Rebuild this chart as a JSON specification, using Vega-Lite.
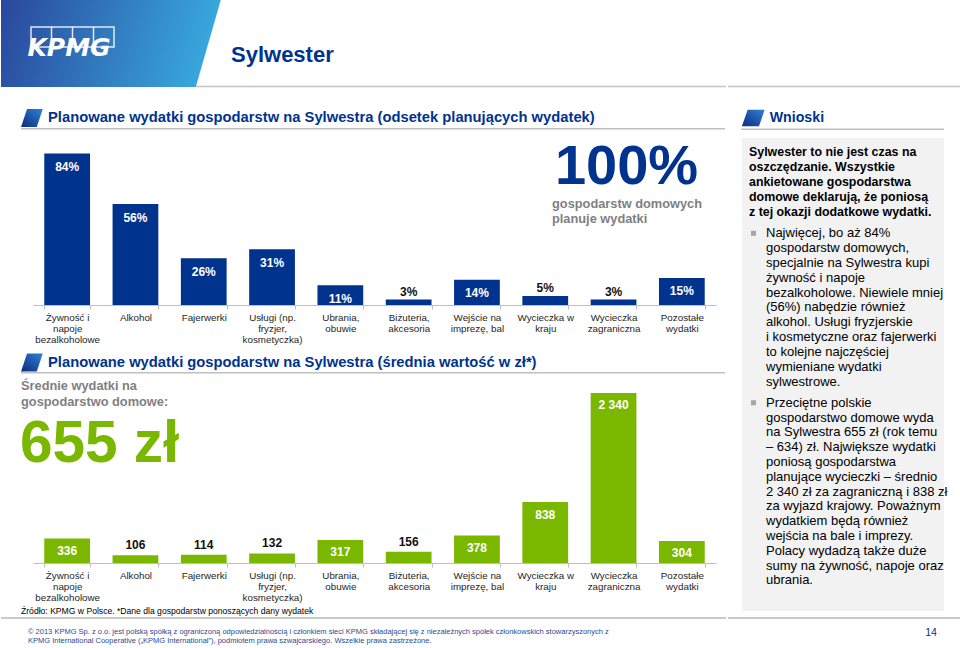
{
  "$schema": "https://vega.github.io/schema/vega-lite/v6.json",
  "padding": 0,
  "background": "#FFFFFF",
  "spacing": 0,
  "config": {
    "font": "Liberation Sans",
    "view": {"stroke": null},
    "locale": {"number": {"decimal": ",", "thousands": " ", "grouping": [3], "currency": ["", " zł"]}}
  },
  "datasets": {
    "spend": [
      {"cat": "Żywność i\nnapoje\nbezalkoholowe", "share": 0.84, "avg": 336},
      {"cat": "Alkohol", "share": 0.56, "avg": 106},
      {"cat": "Fajerwerki", "share": 0.26, "avg": 114},
      {"cat": "Usługi (np.\nfryzjer,\nkosmetyczka)", "share": 0.31, "avg": 132},
      {"cat": "Ubrania,\nobuwie", "share": 0.11, "avg": 317},
      {"cat": "Biżuteria,\nakcesoria", "share": 0.03, "avg": 156},
      {"cat": "Wejście na\nimprezę, bal", "share": 0.14, "avg": 378},
      {"cat": "Wycieczka w\nkraju", "share": 0.05, "avg": 838},
      {"cat": "Wycieczka\nzagraniczna", "share": 0.03, "avg": 2340},
      {"cat": "Pozostałe\nwydatki", "share": 0.15, "avg": 304}
    ],
    "wnioski0": [
      {"line": 0, "text": "Sylwester to nie jest czas na"},
      {"line": 1, "text": "oszczędzanie. Wszystkie"},
      {"line": 2, "text": "ankietowane gospodarstwa"},
      {"line": 3, "text": "domowe deklarują, że poniosą"},
      {"line": 4, "text": "z tej okazji dodatkowe wydatki."}
    ],
    "wnioski1": [
      {"line": 0, "text": "Najwięcej, bo aż 84%"},
      {"line": 1, "text": "gospodarstw domowych,"},
      {"line": 2, "text": "specjalnie na Sylwestra kupi"},
      {"line": 3, "text": "żywność i napoje"},
      {"line": 4, "text": "bezalkoholowe. Niewiele mniej"},
      {"line": 5, "text": "(56%) nabędzie również"},
      {"line": 6, "text": "alkohol. Usługi fryzjerskie"},
      {"line": 7, "text": "i kosmetyczne oraz fajerwerki"},
      {"line": 8, "text": "to kolejne najczęściej"},
      {"line": 9, "text": "wymieniane wydatki"},
      {"line": 10, "text": "sylwestrowe."}
    ],
    "wnioski2": [
      {"line": 0, "text": "Przeciętne polskie"},
      {"line": 1, "text": "gospodarstwo domowe wyda"},
      {"line": 2, "text": "na Sylwestra 655 zł (rok temu"},
      {"line": 3, "text": "– 634) zł. Największe wydatki"},
      {"line": 4, "text": "poniosą gospodarstwa"},
      {"line": 5, "text": "planujące wycieczki – średnio"},
      {"line": 6, "text": "2 340 zł za zagraniczną i 838 zł"},
      {"line": 7, "text": "za wyjazd krajowy. Poważnym"},
      {"line": 8, "text": "wydatkiem będą również"},
      {"line": 9, "text": "wejścia na bale i imprezy."},
      {"line": 10, "text": "Polacy wydadzą także duże"},
      {"line": 11, "text": "sumy na żywność, napoje oraz"},
      {"line": 12, "text": "ubrania."}
    ]
  },
  "hconcat": [
    {
      "spacing": 0,
      "bounds": "flush",
      "vconcat": [
        {
          "width": 725,
          "height": 87,
          "data": {"values": [{}]},
          "layer": [
            {
              "mark": {"type": "rect", "color": {"gradient": "linear", "x1": 0, "y1": 0, "x2": 1, "y2": 0.0345, "stops": [{"offset": 0, "color": "#2A479B"}, {"offset": 0.302, "color": "#38A6DD"}, {"offset": 0.3036, "color": "#FFFFFF"}, {"offset": 1, "color": "#FFFFFF"}]}},
              "encoding": {
                "x": {"datum": 0, "type": "quantitative", "scale": {"domain": [0, 725], "nice": false, "zero": false}, "axis": null},
                "x2": {"datum": 725},
                "y": {"datum": 0, "type": "quantitative", "scale": {"domain": [0, 87], "nice": false, "zero": false, "reverse": true}, "axis": null},
                "y2": {"datum": 87}
              }
            },
            {
              "mark": {"type": "rule", "color": "#C4C4C4", "strokeWidth": 1.5},
              "encoding": {
                "x": {"datum": 195, "type": "quantitative", "scale": {"domain": [0, 725], "nice": false, "zero": false}, "axis": null},
                "x2": {"datum": 725},
                "y": {"datum": 86.5, "type": "quantitative", "scale": {"domain": [0, 87], "nice": false, "zero": false, "reverse": true}, "axis": null}
              }
            },
            {
              "mark": {"type": "rect", "fillOpacity": 0, "stroke": "#FFFFFF", "strokeOpacity": 0.85, "strokeWidth": 1.5},
              "encoding": {
                "x": {"datum": 30, "type": "quantitative", "scale": {"domain": [0, 725], "nice": false, "zero": false}, "axis": null},
                "x2": {"datum": 113},
                "y": {"datum": 27, "type": "quantitative", "scale": {"domain": [0, 87], "nice": false, "zero": false, "reverse": true}, "axis": null},
                "y2": {"datum": 47}
              }
            },
            {
              "mark": {"type": "rule", "color": "#FFFFFF", "opacity": 0.85, "strokeWidth": 1.5},
              "encoding": {
                "x": {"datum": 50.5, "type": "quantitative", "scale": {"domain": [0, 725], "nice": false, "zero": false}, "axis": null},
                "y": {"datum": 27, "type": "quantitative", "scale": {"domain": [0, 87], "nice": false, "zero": false, "reverse": true}, "axis": null},
                "y2": {"datum": 47}
              }
            },
            {
              "mark": {"type": "rule", "color": "#FFFFFF", "opacity": 0.85, "strokeWidth": 1.5},
              "encoding": {
                "x": {"datum": 71.5, "type": "quantitative", "scale": {"domain": [0, 725], "nice": false, "zero": false}, "axis": null},
                "y": {"datum": 27, "type": "quantitative", "scale": {"domain": [0, 87], "nice": false, "zero": false, "reverse": true}, "axis": null},
                "y2": {"datum": 47}
              }
            },
            {
              "mark": {"type": "rule", "color": "#FFFFFF", "opacity": 0.85, "strokeWidth": 1.5},
              "encoding": {
                "x": {"datum": 92.5, "type": "quantitative", "scale": {"domain": [0, 725], "nice": false, "zero": false}, "axis": null},
                "y": {"datum": 27, "type": "quantitative", "scale": {"domain": [0, 87], "nice": false, "zero": false, "reverse": true}, "axis": null},
                "y2": {"datum": 47}
              }
            },
            {
              "mark": {"type": "text", "text": "KPMG", "font": "DejaVu Sans", "fontSize": 25, "fontWeight": "bold", "fontStyle": "italic", "color": "#FFFFFF", "align": "center", "baseline": "alphabetic"},
              "encoding": {
                "x": {"datum": 68, "type": "quantitative", "scale": {"domain": [0, 725], "nice": false, "zero": false}, "axis": null},
                "y": {"datum": 56, "type": "quantitative", "scale": {"domain": [0, 87], "nice": false, "zero": false, "reverse": true}, "axis": null}
              }
            },
            {
              "mark": {"type": "text", "text": "Sylwester", "fontSize": 22, "fontWeight": "bold", "color": "#00338D", "align": "left", "baseline": "middle"},
              "encoding": {
                "x": {"datum": 230, "type": "quantitative", "scale": {"domain": [0, 725], "nice": false, "zero": false}, "axis": null},
                "y": {"datum": 55, "type": "quantitative", "scale": {"domain": [0, 87], "nice": false, "zero": false, "reverse": true}, "axis": null}
              }
            }
          ]
        },
        {
          "width": 725,
          "height": 43,
          "data": {"values": [{}]},
          "layer": [
            {
              "mark": {"type": "point", "shape": "M -1 0.83 L -0.45 -0.83 L 1 -0.83 L 0.45 0.83 Z", "size": 471, "filled": true, "opacity": 1, "strokeWidth": 0, "fill": {"gradient": "linear", "x1": 0, "y1": 1, "x2": 1, "y2": 0, "stops": [{"offset": 0, "color": "#0E2B80"}, {"offset": 1, "color": "#2F82D4"}]}},
              "encoding": {
                "x": {"datum": 30.9, "type": "quantitative", "scale": {"domain": [0, 725], "nice": false, "zero": false}, "axis": null},
                "y": {"datum": 31, "type": "quantitative", "scale": {"domain": [0, 43], "nice": false, "zero": false, "reverse": true}, "axis": null}
              }
            },
            {
              "mark": {"type": "text", "text": "Planowane wydatki gospodarstw na Sylwestra (odsetek planujących wydatek)", "fontSize": 14.75, "fontWeight": "bold", "color": "#00338D", "align": "left", "baseline": "middle"},
              "encoding": {
                "x": {"datum": 47, "type": "quantitative", "scale": {"domain": [0, 725], "nice": false, "zero": false}, "axis": null},
                "y": {"datum": 30.5, "type": "quantitative", "scale": {"domain": [0, 43], "nice": false, "zero": false, "reverse": true}, "axis": null}
              }
            },
            {
              "mark": {"type": "rule", "color": "#C0C0C0", "strokeWidth": 1.5},
              "encoding": {
                "x": {"datum": 20, "type": "quantitative", "scale": {"domain": [0, 725], "nice": false, "zero": false}, "axis": null},
                "x2": {"datum": 724},
                "y": {"datum": 41.8, "type": "quantitative", "scale": {"domain": [0, 43], "nice": false, "zero": false, "reverse": true}, "axis": null}
              }
            }
          ]
        },
        {
          "width": 725,
          "height": 175,
          "layer": [
            {
              "data": {"name": "spend"},
              "encoding": {
                "x": {"field": "cat", "type": "nominal", "sort": null, "scale": {"range": [32, 715], "paddingInner": 0.33, "paddingOuter": 0.165},
                  "axis": {"title": null, "labelAngle": 0, "labelExpr": "split(datum.label, '\\n')", "labelFontSize": 9.8, "labelLineHeight": 11, "labelColor": "#262626", "labelPadding": 3, "labelBaseline": "top", "tickSize": 4, "tickColor": "#BFBFBF", "tickBand": "extent", "domainColor": "#BFBFBF", "domainWidth": 1, "labelOverlap": false}},
                "y": {"field": "share", "type": "quantitative", "scale": {"domain": [0, 0.971], "nice": false}, "axis": null}
              },
              "layer": [
                {"mark": {"type": "bar", "color": "#00338D"}},
                {
                  "mark": {"type": "text", "baseline": "middle", "dy": 13.5, "fontSize": 12, "fontWeight": "bold", "color": "#FFFFFF"},
                  "encoding": {"text": {"condition": {"test": "datum.share >= 0.1", "field": "share", "type": "quantitative", "format": ".0%"}, "value": ""}}
                },
                {
                  "mark": {"type": "text", "baseline": "middle", "dy": -8, "fontSize": 12, "fontWeight": "bold", "color": "#111111"},
                  "encoding": {"text": {"condition": {"test": "datum.share < 0.1", "field": "share", "type": "quantitative", "format": ".0%"}, "value": ""}}
                }
              ]
            },
            {
              "data": {"values": [{}]},
              "layer": [
                {
                  "mark": {"type": "text", "text": "100%", "align": "center", "baseline": "alphabetic", "fontSize": 56, "fontWeight": "bold", "color": "#00338D"},
                  "encoding": {
                    "x": {"datum": 625.5, "type": "quantitative", "scale": {"domain": [0, 725], "nice": false, "zero": false}, "axis": null},
                    "y": {"datum": 0.6715, "type": "quantitative", "scale": {"domain": [0, 0.971], "nice": false}, "axis": null}
                  }
                },
                {
                  "mark": {"type": "text", "text": ["gospodarstw domowych", "planuje wydatki"], "align": "left", "baseline": "middle", "lineHeight": 15.7, "fontSize": 12.8, "fontWeight": "bold", "color": "#7F7F7F"},
                  "encoding": {
                    "x": {"datum": 551, "type": "quantitative", "scale": {"domain": [0, 725], "nice": false, "zero": false}, "axis": null},
                    "y": {"datum": 0.562, "type": "quantitative", "scale": {"domain": [0, 0.971], "nice": false}, "axis": null}
                  }
                }
              ]
            }
          ],
          "resolve": {"scale": {"x": "independent"}}
        },
        {
          "width": 725,
          "height": 69,
          "data": {"values": [{}]},
          "layer": [
            {
              "mark": {"type": "point", "shape": "M -1 0.83 L -0.45 -0.83 L 1 -0.83 L 0.45 0.83 Z", "size": 471, "filled": true, "opacity": 1, "strokeWidth": 0, "fill": {"gradient": "linear", "x1": 0, "y1": 1, "x2": 1, "y2": 0, "stops": [{"offset": 0, "color": "#0E2B80"}, {"offset": 1, "color": "#2F82D4"}]}},
              "encoding": {
                "x": {"datum": 30.9, "type": "quantitative", "scale": {"domain": [0, 725], "nice": false, "zero": false}, "axis": null},
                "y": {"datum": 57.4, "type": "quantitative", "scale": {"domain": [0, 69], "nice": false, "zero": false, "reverse": true}, "axis": null}
              }
            },
            {
              "mark": {"type": "text", "text": "Planowane wydatki gospodarstw na Sylwestra (średnia wartość w zł*)", "fontSize": 14.75, "fontWeight": "bold", "color": "#00338D", "align": "left", "baseline": "middle"},
              "encoding": {
                "x": {"datum": 47, "type": "quantitative", "scale": {"domain": [0, 725], "nice": false, "zero": false}, "axis": null},
                "y": {"datum": 57.5, "type": "quantitative", "scale": {"domain": [0, 69], "nice": false, "zero": false, "reverse": true}, "axis": null}
              }
            },
            {
              "mark": {"type": "rule", "color": "#C0C0C0", "strokeWidth": 1.5},
              "encoding": {
                "x": {"datum": 20, "type": "quantitative", "scale": {"domain": [0, 725], "nice": false, "zero": false}, "axis": null},
                "x2": {"datum": 724},
                "y": {"datum": 67.7, "type": "quantitative", "scale": {"domain": [0, 69], "nice": false, "zero": false, "reverse": true}, "axis": null}
              }
            }
          ]
        },
        {
          "width": 725,
          "height": 189,
          "layer": [
            {
              "data": {"name": "spend"},
              "encoding": {
                "x": {"field": "cat", "type": "nominal", "sort": null, "scale": {"range": [32, 715], "paddingInner": 0.33, "paddingOuter": 0.165},
                  "axis": {"title": null, "labelAngle": 0, "labelExpr": "split(datum.label, '\\n')", "labelFontSize": 9.8, "labelLineHeight": 11, "labelColor": "#262626", "labelPadding": 3, "labelBaseline": "top", "tickSize": 4, "tickColor": "#BFBFBF", "tickBand": "extent", "domainColor": "#BFBFBF", "domainWidth": 1, "labelOverlap": false}},
                "y": {"field": "avg", "type": "quantitative", "scale": {"domain": [0, 2601.5], "nice": false}, "axis": null}
              },
              "layer": [
                {"mark": {"type": "bar", "color": "#7AB800"}},
                {
                  "mark": {"type": "text", "baseline": "middle", "dy": 12.5, "fontSize": 12, "fontWeight": "bold", "color": "#FFFFFF"},
                  "encoding": {"text": {"condition": {"test": "datum.avg >= 200", "field": "avg", "type": "quantitative", "format": ",d"}, "value": ""}}
                },
                {
                  "mark": {"type": "text", "baseline": "middle", "dy": -10, "fontSize": 12, "fontWeight": "bold", "color": "#111111"},
                  "encoding": {"text": {"condition": {"test": "datum.avg < 200", "field": "avg", "type": "quantitative", "format": ",d"}, "value": ""}}
                }
              ]
            },
            {
              "data": {"values": [{}]},
              "layer": [
                {
                  "mark": {"type": "text", "text": ["Średnie wydatki na", "gospodarstwo domowe:"], "align": "left", "baseline": "middle", "lineHeight": 16, "fontSize": 12.8, "fontWeight": "bold", "color": "#7F7F7F"},
                  "encoding": {
                    "x": {"datum": 20, "type": "quantitative", "scale": {"domain": [0, 725], "nice": false, "zero": false}, "axis": null},
                    "y": {"datum": 2441, "type": "quantitative", "scale": {"domain": [0, 2601.5], "nice": false}, "axis": null}
                  }
                },
                {
                  "mark": {"type": "text", "text": "655 zł", "align": "left", "baseline": "alphabetic", "fontSize": 58.5, "fontWeight": "bold", "color": "#7AB800"},
                  "encoding": {
                    "x": {"datum": 19, "type": "quantitative", "scale": {"domain": [0, 725], "nice": false, "zero": false}, "axis": null},
                    "y": {"datum": 1390, "type": "quantitative", "scale": {"domain": [0, 2601.5], "nice": false}, "axis": null}
                  }
                }
              ]
            }
          ],
          "resolve": {"scale": {"x": "independent"}}
        },
        {
          "width": 725,
          "height": 85,
          "data": {"values": [{}]},
          "layer": [
            {
              "mark": {"type": "text", "text": "Źródło: KPMG w Polsce. *Dane dla gospodarstw ponoszących dany wydatek", "fontSize": 8.6, "color": "#000000", "align": "left", "baseline": "middle"},
              "encoding": {
                "x": {"datum": 20, "type": "quantitative", "scale": {"domain": [0, 725], "nice": false, "zero": false}, "axis": null},
                "y": {"datum": 47.7, "type": "quantitative", "scale": {"domain": [0, 85], "nice": false, "zero": false, "reverse": true}, "axis": null}
              }
            },
            {
              "mark": {"type": "rule", "color": "#B8B8B8", "strokeWidth": 1.5},
              "encoding": {
                "x": {"datum": 0, "type": "quantitative", "scale": {"domain": [0, 725], "nice": false, "zero": false}, "axis": null},
                "x2": {"datum": 725},
                "y": {"datum": 55, "type": "quantitative", "scale": {"domain": [0, 85], "nice": false, "zero": false, "reverse": true}, "axis": null}
              }
            },
            {
              "mark": {"type": "text", "text": ["© 2013 KPMG Sp. z o.o. jest polską spółką z ograniczoną odpowiedzialnością i członkiem sieci KPMG składającej się z niezależnych spółek członkowskich stowarzyszonych z", "KPMG International Cooperative („KPMG International”), podmiotem prawa szwajcarskiego. Wszelkie prawa zastrzeżone."], "fontSize": 7.5, "lineHeight": 9, "color": "#2A4A94", "align": "left", "baseline": "middle"},
              "encoding": {
                "x": {"datum": 27, "type": "quantitative", "scale": {"domain": [0, 725], "nice": false, "zero": false}, "axis": null},
                "y": {"datum": 69, "type": "quantitative", "scale": {"domain": [0, 85], "nice": false, "zero": false, "reverse": true}, "axis": null}
              }
            }
          ]
        }
      ]
    },
    {
      "spacing": 0,
      "bounds": "flush",
      "vconcat": [
        {
          "width": 235,
          "height": 87,
          "data": {"values": [{}]},
          "mark": {"type": "rule", "color": "#C4C4C4", "strokeWidth": 1.5},
          "encoding": {
            "x": {"datum": 0, "type": "quantitative", "scale": {"domain": [0, 235], "nice": false, "zero": false}, "axis": null},
            "x2": {"datum": 235},
            "y": {"datum": 86.5, "type": "quantitative", "scale": {"domain": [0, 87], "nice": false, "zero": false, "reverse": true}, "axis": null}
          }
        },
        {
          "width": 235,
          "height": 51,
          "data": {"values": [{}]},
          "layer": [
            {
              "mark": {"type": "point", "shape": "M -1 0.72 L -0.5 -0.72 L 1 -0.72 L 0.5 0.72 Z", "size": 515, "filled": true, "opacity": 1, "strokeWidth": 0, "fill": {"gradient": "linear", "x1": 0, "y1": 1, "x2": 1, "y2": 0, "stops": [{"offset": 0, "color": "#0E2B80"}, {"offset": 1, "color": "#2F82D4"}]}},
              "encoding": {
                "x": {"datum": 25.3, "type": "quantitative", "scale": {"domain": [0, 235], "nice": false, "zero": false}, "axis": null},
                "y": {"datum": 31, "type": "quantitative", "scale": {"domain": [0, 51], "nice": false, "zero": false, "reverse": true}, "axis": null}
              }
            },
            {
              "mark": {"type": "text", "text": "Wnioski", "fontSize": 14.2, "fontWeight": "bold", "color": "#00338D", "align": "left", "baseline": "middle"},
              "encoding": {
                "x": {"datum": 41.7, "type": "quantitative", "scale": {"domain": [0, 235], "nice": false, "zero": false}, "axis": null},
                "y": {"datum": 31, "type": "quantitative", "scale": {"domain": [0, 51], "nice": false, "zero": false, "reverse": true}, "axis": null}
              }
            },
            {
              "mark": {"type": "rule", "color": "#C0C0C0", "strokeWidth": 1.5},
              "encoding": {
                "x": {"datum": 13, "type": "quantitative", "scale": {"domain": [0, 235], "nice": false, "zero": false}, "axis": null},
                "x2": {"datum": 216},
                "y": {"datum": 42.3, "type": "quantitative", "scale": {"domain": [0, 51], "nice": false, "zero": false, "reverse": true}, "axis": null}
              }
            }
          ]
        },
        {
          "width": 235,
          "height": 84,
          "layer": [
            {
              "data": {"values": [{}]},
              "mark": {"type": "rect", "color": "#F2F2F2"},
              "encoding": {
                "x": {"datum": 14, "type": "quantitative", "scale": {"domain": [0, 235], "nice": false, "zero": false}, "axis": null},
                "x2": {"datum": 216},
                "y": {"datum": -0.913, "type": "quantitative", "scale": {"domain": [-0.913, 4.687], "nice": false, "zero": false, "reverse": true}, "axis": null},
                "y2": {"datum": 4.687}
              }
            },
            {
              "data": {"name": "wnioski0"},
              "mark": {"type": "text", "align": "left", "baseline": "middle", "fontSize": 12.4, "fontWeight": "bold", "color": "#000000"},
              "encoding": {
                "x": {"datum": 21, "type": "quantitative", "scale": {"domain": [0, 235], "nice": false, "zero": false}, "axis": null},
                "y": {"field": "line", "type": "quantitative", "scale": {"domain": [-0.913, 4.687], "nice": false, "zero": false, "reverse": true}, "axis": null},
                "text": {"field": "text"}
              }
            }
          ]
        },
        {
          "width": 235,
          "height": 169,
          "layer": [
            {
              "data": {"values": [{}]},
              "mark": {"type": "rect", "color": "#F2F2F2"},
              "encoding": {
                "x": {"datum": 14, "type": "quantitative", "scale": {"domain": [0, 235], "nice": false, "zero": false}, "axis": null},
                "x2": {"datum": 216},
                "y": {"datum": -0.761, "type": "quantitative", "scale": {"domain": [-0.761, 10.627], "nice": false, "zero": false, "reverse": true}, "axis": null},
                "y2": {"datum": 10.627}
              }
            },
            {
              "data": {"values": [{}]},
              "mark": {"type": "point", "shape": "square", "filled": true, "size": 25, "color": "#A6A6A6", "opacity": 1},
              "encoding": {
                "x": {"datum": 25.5, "type": "quantitative", "scale": {"domain": [0, 235], "nice": false, "zero": false}, "axis": null},
                "y": {"datum": 0, "type": "quantitative", "scale": {"domain": [-0.761, 10.627], "nice": false, "zero": false, "reverse": true}, "axis": null}
              }
            },
            {
              "data": {"name": "wnioski1"},
              "mark": {"type": "text", "align": "left", "baseline": "middle", "fontSize": 13, "color": "#000000"},
              "encoding": {
                "x": {"datum": 38, "type": "quantitative", "scale": {"domain": [0, 235], "nice": false, "zero": false}, "axis": null},
                "y": {"field": "line", "type": "quantitative", "scale": {"domain": [-0.761, 10.627], "nice": false, "zero": false, "reverse": true}, "axis": null},
                "text": {"field": "text"}
              }
            }
          ]
        },
        {
          "width": 235,
          "height": 220,
          "layer": [
            {
              "data": {"values": [{}]},
              "mark": {"type": "rect", "color": "#F2F2F2"},
              "encoding": {
                "x": {"datum": 14, "type": "quantitative", "scale": {"domain": [0, 235], "nice": false, "zero": false}, "axis": null},
                "x2": {"datum": 216},
                "y": {"datum": -0.791, "type": "quantitative", "scale": {"domain": [-0.791, 14.074], "nice": false, "zero": false, "reverse": true}, "axis": null},
                "y2": {"datum": 14.074}
              }
            },
            {
              "data": {"values": [{}]},
              "mark": {"type": "point", "shape": "square", "filled": true, "size": 25, "color": "#A6A6A6", "opacity": 1},
              "encoding": {
                "x": {"datum": 25.5, "type": "quantitative", "scale": {"domain": [0, 235], "nice": false, "zero": false}, "axis": null},
                "y": {"datum": 0, "type": "quantitative", "scale": {"domain": [-0.791, 14.074], "nice": false, "zero": false, "reverse": true}, "axis": null}
              }
            },
            {
              "data": {"name": "wnioski2"},
              "mark": {"type": "text", "align": "left", "baseline": "middle", "fontSize": 13, "color": "#000000"},
              "encoding": {
                "x": {"datum": 38, "type": "quantitative", "scale": {"domain": [0, 235], "nice": false, "zero": false}, "axis": null},
                "y": {"field": "line", "type": "quantitative", "scale": {"domain": [-0.791, 14.074], "nice": false, "zero": false, "reverse": true}, "axis": null},
                "text": {"field": "text"}
              }
            }
          ]
        },
        {
          "width": 235,
          "height": 37,
          "data": {"values": [{}]},
          "layer": [
            {
              "mark": {"type": "rule", "color": "#B8B8B8", "strokeWidth": 1.5},
              "encoding": {
                "x": {"datum": 0, "type": "quantitative", "scale": {"domain": [0, 235], "nice": false, "zero": false}, "axis": null},
                "x2": {"datum": 235},
                "y": {"datum": 7, "type": "quantitative", "scale": {"domain": [0, 37], "nice": false, "zero": false, "reverse": true}, "axis": null}
              }
            },
            {
              "mark": {"type": "text", "text": "14", "fontSize": 10.5, "color": "#00338D", "align": "center", "baseline": "middle"},
              "encoding": {
                "x": {"datum": 203, "type": "quantitative", "scale": {"domain": [0, 235], "nice": false, "zero": false}, "axis": null},
                "y": {"datum": 21.5, "type": "quantitative", "scale": {"domain": [0, 37], "nice": false, "zero": false, "reverse": true}, "axis": null}
              }
            }
          ]
        }
      ]
    }
  ]
}
